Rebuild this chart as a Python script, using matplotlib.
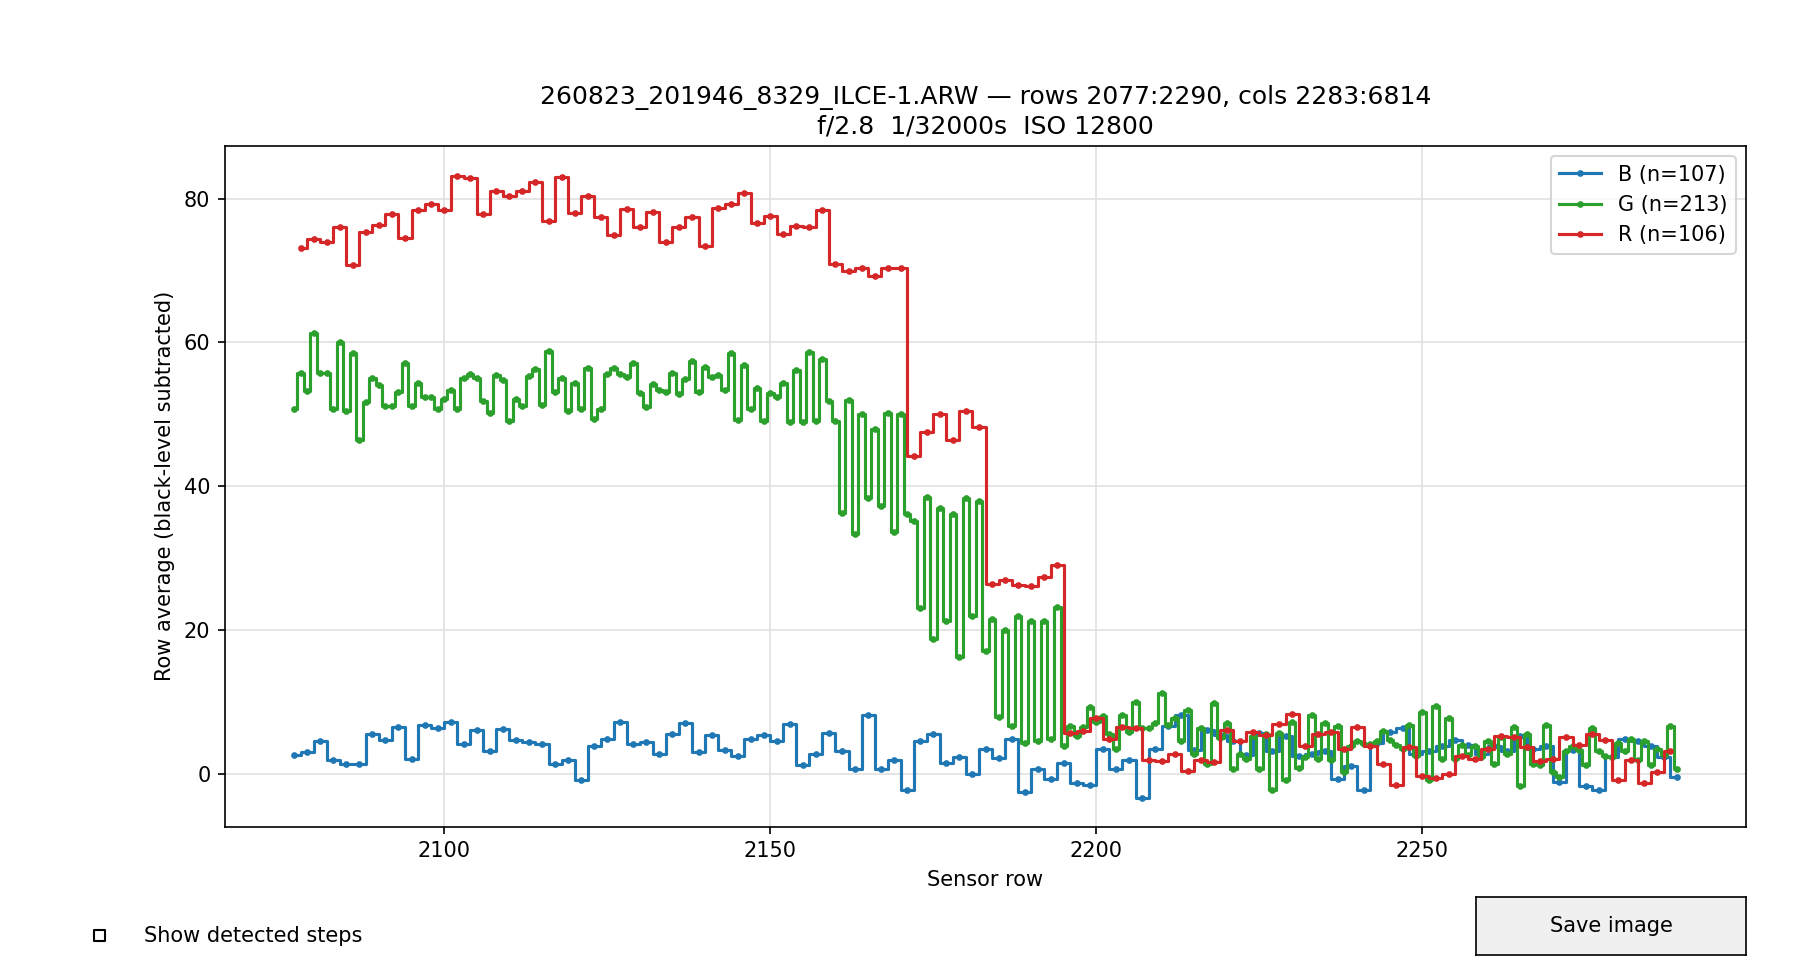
import numpy as np
import matplotlib
matplotlib.use("Agg")
import matplotlib.pyplot as plt
from matplotlib.widgets import CheckButtons, Button

# ---- data -------------------------------------------------------------
title_line1 = "260823_201946_8329_ILCE-1.ARW \u2014 rows 2077:2290, cols 2283:6814"
title_line2 = "f/2.8  1/32000s  ISO 12800"

b_rows = list(range(2077, 2290, 2))   # 107 rows
g_rows = list(range(2077, 2290, 1))   # 213 rows
r_rows = list(range(2078, 2289, 2))   # 106 rows

b_values = [
    2.55, 3.0, 4.5, 1.9, 1.3, 1.3, 5.5, 4.7, 6.5, 2.0,      # 2077-2095
    6.8, 6.3, 7.2, 4.1, 6.1, 3.2, 6.2, 4.7, 4.4, 4.2,       # 2097-2115
    1.3, 1.9, -0.8, 3.9, 4.8, 7.2, 4.1, 4.4, 2.7, 5.6,      # 2117-2135
    7.0, 3.0, 5.4, 3.3, 2.5, 4.8, 5.4, 4.5, 6.9, 1.2,       # 2137-2155
    2.7, 5.7, 3.2, 0.6, 8.2, 0.6, 1.9, -2.2, 4.6, 5.6,      # 2157-2175
    1.5, 2.4, -0.1, 3.5, 2.2, 4.9, -2.5, 0.6, -0.7, 1.5,    # 2177-2195
    -1.3, -1.5, 3.5, 0.6, 1.9, -3.4, 3.4, 6.6, 8.2, 3.3,    # 2197-2215
    6.1, 5.4, 4.5, 2.6, 5.7, 3.2, 5.2, 2.5, 2.7, 3.1,       # 2217-2235
    -0.7, 1.1, -2.2, 4.3, 5.8, 6.3, 2.7, 3.2, 3.8, 4.7,     # 2237-2255
    4.0, 2.8, 3.8, 3.1, 5.2, 3.5, 3.9, -1.1, 3.3, -1.7,     # 2257-2275
    -2.3, 2.3, 4.8, 4.5, 3.8, 2.3, -0.5,                    # 2277-2289
]

g_values = [
    50.8, 55.8, 53.3, 61.3, 55.7, 55.8, 50.7, 60.1, 50.4, 58.5,   # 2077-2086
    46.4, 51.7, 55.0, 54.1, 51.1, 51.1, 53.1, 57.1, 51.1, 54.3,   # 2087-2096
    52.4, 52.4, 50.8, 52.1, 53.4, 50.8, 55.0, 55.6, 55.1, 51.8,   # 2097-2106
    50.2, 55.5, 54.7, 49.0, 52.1, 51.1, 55.3, 56.3, 51.3, 58.8,   # 2107-2116
    53.1, 55.0, 50.4, 54.4, 50.8, 56.4, 49.3, 50.7, 55.6, 56.5,   # 2117-2126
    55.6, 55.2, 57.1, 53.0, 51.0, 54.2, 53.4, 53.1, 55.7, 52.8,   # 2127-2136
    54.9, 57.4, 53.1, 56.6, 55.2, 55.5, 53.4, 58.5, 49.2, 56.8,   # 2137-2146
    50.7, 53.6, 49.0, 53.0, 52.4, 54.4, 48.9, 56.1, 48.9, 58.6,   # 2147-2156
    49.0, 57.7, 51.8, 49.1, 36.3, 52.0, 33.3, 50.1, 38.4, 48.0,   # 2157-2166
    37.2, 50.2, 33.6, 50.0, 36.1, 35.2, 23.1, 38.5, 18.8, 36.9,   # 2167-2176
    21.3, 36.2, 16.3, 38.4, 22.0, 38.0, 17.1, 21.5, 7.9, 20.0,    # 2177-2186
    6.7, 21.9, 4.3, 21.2, 4.5, 21.2, 4.9, 23.2, 3.9, 6.6,         # 2187-2196
    5.2, 6.5, 9.3, 7.2, 8.0, 5.5, 3.5, 8.2, 5.8, 10.0,            # 2197-2206
    6.3, 6.4, 7.1, 11.2, 6.8, 7.8, 4.5, 8.9, 2.7, 6.3,            # 2207-2216
    1.3, 9.9, 5.0, 7.1, 0.7, 2.8, 2.1, 5.2, 0.7, 5.5,             # 2217-2226
    -2.3, 5.7, -0.9, 7.2, 0.8, 2.3, 8.2, 2.1, 7.0, 1.9,           # 2227-2236
    6.6, 0.3, 3.8, 4.5, 4.1, 4.2, 4.5, 6.0, 4.7, 4.0,             # 2237-2246
    3.5, 6.8, 2.5, 8.6, -0.8, 9.4, 2.0, 7.7, 2.1, 4.0,            # 2247-2256
    2.6, 3.9, 2.3, 4.5, 1.4, 5.1, 2.8, 6.5, -1.7, 5.5,            # 2257-2266
    1.3, 1.2, 6.8, 0.3, -0.5, 3.2, 3.8, 3.3, 1.2, 6.3,            # 2267-2276
    3.1, 2.5, 2.3, 4.3, 3.1, 4.8, 1.9, 4.5, 1.2, 3.5,             # 2277-2286
    2.6, 6.6, 0.7,                                                # 2287-2289
]

r_values = [
    73.1, 74.4, 73.9, 76.0, 70.8, 75.4, 76.3, 77.9, 74.5, 78.4,   # 2078-2096
    79.3, 78.4, 83.1, 82.8, 77.9, 81.1, 80.4, 81.1, 82.3, 76.9,   # 2098-2116
    83.0, 78.0, 80.4, 77.4, 75.0, 78.5, 76.0, 78.1, 73.9, 76.0,   # 2118-2136
    77.5, 73.4, 78.7, 79.2, 80.8, 76.6, 77.6, 75.1, 76.2, 76.0,   # 2138-2156
    78.4, 70.9, 69.9, 70.4, 69.3, 70.3, 70.3, 44.2, 47.6, 50.1,   # 2158-2176
    46.4, 50.4, 48.2, 26.4, 26.9, 26.3, 26.1, 27.4, 29.0, 5.7,    # 2178-2196
    6.0, 7.8, 4.8, 6.5, 6.3, 1.9, 1.8, 2.7, 0.4, 1.9,             # 2198-2216
    1.6, 6.1, 4.5, 5.8, 5.4, 6.9, 8.3, 3.8, 5.6, 5.8,             # 2218-2236
    3.5, 6.5, 3.9, 1.4, -1.5, 3.7, -0.3, -0.6, 0.0, 2.5,          # 2238-2256
    2.0, 3.5, 5.2, 5.1, 3.7, 1.8, 2.0, 5.1, 4.0, 5.5,             # 2258-2276
    4.7, -0.8, 1.9, -1.3, 0.2, 3.2,                               # 2278-2288
]

series = [
    ("B", b_rows, b_values, "tab:blue"),
    ("G", g_rows, g_values, "tab:green"),
    ("R", r_rows, r_values, "tab:red"),
]

# ---- figure -----------------------------------------------------------
fig = plt.figure(figsize=(12, 6.5), dpi=150)
ax = fig.add_axes([0.125, 0.1522, 0.845, 0.6983])

for name, rows, vals, col in series:
    n = min(len(rows), len(vals))
    ax.plot(rows[:n], vals[:n], drawstyle="steps-mid", color=col,
            marker="o", markersize=2.2, linewidth=1.5,
            label=f"{name} (n={len(vals)})")

ax.grid(True, color="#e0e0e0", linewidth=0.8)
ax.set_axisbelow(True)
ax.set_ylim(-7.35, 87.35)
ax.set_xlabel("Sensor row")
ax.set_ylabel("Row average (black-level subtracted)")
ax.set_title(title_line1 + "\n" + title_line2, fontsize=12)
ax.set_xticks([2100, 2150, 2200, 2250])
ax.set_yticks([0, 20, 40, 60, 80])
ax.legend(loc="upper right")

# ---- widgets ----------------------------------------------------------
cax = fig.add_axes([33 / 1800, 0.0103, 443 / 1800, 0.06], frameon=False)
check = CheckButtons(cax, ["Show detected steps"], [False])

bax = fig.add_axes([0.82, 0.0205, 0.15, 0.06])
button = Button(bax, "Save image", color="0.94", hovercolor="0.98")

fig.savefig("out.png", dpi=150)
